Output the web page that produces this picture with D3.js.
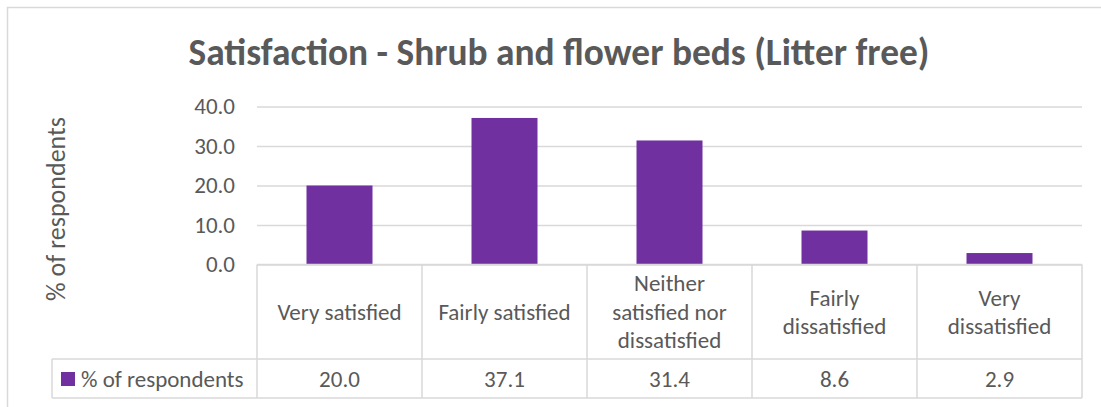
<!DOCTYPE html>
<html>
<head>
<meta charset="utf-8">
<script src="https://cdn.jsdelivr.net/npm/d3@7"></script>
<style>
  html, body { margin: 0; padding: 0; background: #fff; }
  svg { display: block; font-family: Carlito, Calibri, Lato, "Open Sans", sans-serif; }
</style>
</head>
<body>
<svg id="chart" width="1101" height="407"></svg>
<script>
// Survey results
const categories = [
  ["Very satisfied"],
  ["Fairly satisfied"],
  ["Neither", "satisfied nor", "dissatisfied"],
  ["Fairly", "dissatisfied"],
  ["Very", "dissatisfied"]
];
const values = [20.0, 37.1, 31.4, 8.6, 2.9];
const yTicks = [0, 10, 20, 30, 40];
const seriesName = "% of respondents";
const chartTitle = "Satisfaction - Shrub and flower beds (Litter free)";

const svg = d3.select("#chart");
const textColor = "#595959";
const gridColor = "#d9d9d9";
const barColor = "#7030A0";
const bodySize = 23;

const plot = { left: 257, right: 1082, top: 106.5, bottom: 264.5 };
const tableRow1 = 359;
const tableRow2 = 398;
const legendLeft = 52;

// outer frame
svg.append("rect")
  .attr("x", 7.5).attr("y", 7.5)
  .attr("width", 1120).attr("height", 420)
  .attr("fill", "none").attr("stroke", gridColor).attr("stroke-width", 1.5);

const x = d3.scaleBand()
  .domain(d3.range(categories.length))
  .range([plot.left, plot.right])
  .paddingInner(0).paddingOuter(0);

const y = d3.scaleLinear().domain([0, 40]).range([plot.bottom, plot.top]);

// title, sized to span its line
const title = svg.append("text")
  .attr("x", 559).attr("y", 65)
  .attr("text-anchor", "middle")
  .attr("font-weight", "bold")
  .attr("font-size", 29)
  .attr("fill", textColor)
  .text(chartTitle);
const tw = title.node().getComputedTextLength();
title.attr("font-size", 29 * 741 / tw);

// gridlines + y tick labels
const yAxis = d3.axisLeft(y).tickValues(yTicks).tickFormat(d3.format(".1f"))
  .tickSize(-(plot.right - plot.left)).tickPadding(22);
const gy = svg.append("g").attr("transform", `translate(${plot.left},0)`).call(yAxis);
gy.select(".domain").remove();
gy.selectAll(".tick line").attr("stroke", gridColor).attr("stroke-width", 1.3);
gy.selectAll(".tick text").attr("fill", textColor).attr("font-size", bodySize)
  .attr("font-family", "Carlito, Calibri, Lato, sans-serif");

// y axis title
svg.append("text")
  .attr("transform", `translate(65,209) rotate(-90)`)
  .attr("text-anchor", "middle")
  .attr("font-size", 26)
  .attr("fill", textColor)
  .text(seriesName);

// bars
const barW = x.bandwidth() * 0.4;
svg.append("g").selectAll("rect")
  .data(values)
  .join("rect")
  .attr("x", (d, i) => x(i) + (x.bandwidth() - barW) / 2)
  .attr("width", barW)
  .attr("y", d => y(d))
  .attr("height", d => y(0) - y(d))
  .attr("fill", barColor);

// data table grid
const g = svg.append("g").attr("stroke", gridColor).attr("stroke-width", 1.5).attr("fill", "none");
g.append("line").attr("x1", plot.left).attr("x2", plot.right).attr("y1", plot.bottom).attr("y2", plot.bottom);
g.append("line").attr("x1", legendLeft).attr("x2", plot.right).attr("y1", tableRow1).attr("y2", tableRow1);
g.append("line").attr("x1", legendLeft).attr("x2", plot.right).attr("y1", tableRow2).attr("y2", tableRow2);
g.append("line").attr("x1", legendLeft).attr("x2", legendLeft).attr("y1", tableRow1).attr("y2", tableRow2);
d3.range(categories.length + 1).forEach(i => {
  const xx = i < categories.length ? x(i) : plot.right;
  g.append("line").attr("x1", xx).attr("x2", xx).attr("y1", plot.bottom).attr("y2", tableRow2);
});

// category labels, one text per line
const catG = svg.append("g").attr("fill", textColor).attr("font-size", bodySize).attr("text-anchor", "middle");
const lineH = 28.5;
const rowMid = (plot.bottom + tableRow1) / 2;
categories.forEach((lines, i) => {
  lines.forEach((ln, j) => {
    catG.append("text")
      .attr("x", x(i) + x.bandwidth() / 2)
      .attr("y", rowMid - (lines.length - 1) * lineH / 2 + j * lineH)
      .attr("dy", "0.35em")
      .text(ln);
  });
});

// values row
const valMid = (tableRow1 + tableRow2) / 2;
svg.append("g").selectAll("text")
  .data(values)
  .join("text")
  .attr("x", (d, i) => x(i) + x.bandwidth() / 2)
  .attr("y", valMid).attr("dy", "0.35em")
  .attr("text-anchor", "middle")
  .attr("font-size", bodySize)
  .attr("fill", textColor)
  .text(d => d3.format(".1f")(d));

// legend key
svg.append("rect")
  .attr("x", 61).attr("y", 372).attr("width", 14).attr("height", 14)
  .attr("fill", barColor);
svg.append("text")
  .attr("x", 81).attr("y", valMid).attr("dy", "0.35em")
  .attr("font-size", bodySize).attr("fill", textColor)
  .text(seriesName);
</script>
</body>
</html>
